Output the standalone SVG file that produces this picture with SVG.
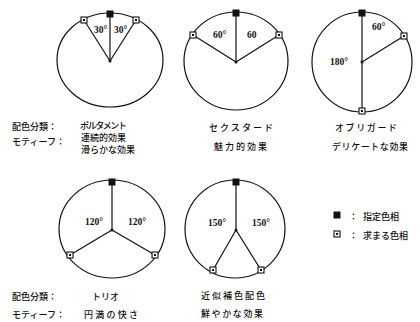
<svg xmlns="http://www.w3.org/2000/svg" xmlns:xlink="http://www.w3.org/1999/xlink" width="420" height="322" viewBox="0 0 420 322">
<style>
.ring{fill:none;stroke:#111;stroke-width:1.2}
.ray{stroke:#111;stroke-width:1.2;fill:none}
.jp{font-family:"Noto Sans CJK JP","Noto Sans",sans-serif;font-size:9px;font-weight:500;fill:#111}
.ang{font-family:"Liberation Serif",serif;font-weight:bold;font-size:9.5px;fill:#111}
.dot{fill:#111}
</style>
<defs>
<g id="given"><rect x="-3.5" y="-3.5" width="7" height="7" fill="#111"/></g>
<g id="found"><rect x="-3" y="-3" width="6" height="6" fill="#fff" stroke="#111" stroke-width="1.1"/><rect x="-1" y="-1" width="2" height="2" fill="#111"/></g>
</defs>
<rect width="420" height="322" fill="#fff"/>

<g id="connectors">
<line class="ray" x1="110" y1="61" x2="110" y2="13"/>
<line class="ray" x1="110" y1="61" x2="84" y2="20"/>
<line class="ray" x1="110" y1="61" x2="136" y2="20"/>
<line class="ray" x1="236" y1="62" x2="236" y2="12"/>
<line class="ray" x1="236" y1="62" x2="193" y2="35"/>
<line class="ray" x1="236" y1="62" x2="279" y2="35"/>
<line class="ray" x1="362" y1="12" x2="362" y2="112"/>
<line class="ray" x1="362" y1="62" x2="404" y2="36"/>
<line class="ray" x1="112" y1="230" x2="112" y2="181"/>
<line class="ray" x1="112" y1="230" x2="70" y2="255"/>
<line class="ray" x1="112" y1="230" x2="155" y2="255"/>
<line class="ray" x1="236" y1="230" x2="236" y2="181"/>
<line class="ray" x1="236" y1="230" x2="213" y2="270"/>
<line class="ray" x1="236" y1="230" x2="261" y2="270"/>
</g>

<g id="wheel-portamento">
<ellipse class="ring" cx="110" cy="60" rx="53" ry="47"/>
<circle class="dot" cx="110" cy="61" r="1.5"/>
<use href="#given" x="110" y="14"/>
<use href="#found" x="84" y="20"/>
<use href="#found" x="136" y="20"/>
<text class="ang" x="94" y="33">30°</text>
<text class="ang" x="114" y="33">30°</text>
<text class="jp" x="12" y="129.5">配色分類：</text>
<text class="jp" x="80" y="128.5" textLength="47" lengthAdjust="spacing">ポルタメント</text>
<text class="jp" x="12" y="145">モティーフ：</text>
<text class="jp" x="81" y="141" font-size="7.8">連続的効果</text>
<text class="jp" x="81" y="152.5" font-size="7.8">滑らかな効果</text>
</g>

<g id="wheel-sextad">
<ellipse class="ring" cx="236" cy="61" rx="52" ry="49"/>
<circle class="dot" cx="236" cy="62" r="1.5"/>
<use href="#given" x="236" y="13"/>
<use href="#found" x="193" y="35"/>
<use href="#found" x="279" y="35"/>
<text class="ang" x="213" y="38">60°</text>
<text class="ang" x="247" y="38">60</text>
<text class="jp" x="209" y="130.5" textLength="64" lengthAdjust="spacing">セクスタード</text>
<text class="jp" x="214" y="149.5" textLength="53" lengthAdjust="spacing">魅力的効果</text>
</g>

<g id="wheel-obbligato">
<ellipse class="ring" cx="362" cy="62" rx="50" ry="50"/>
<circle class="dot" cx="362" cy="62" r="1.5"/>
<use href="#given" x="362" y="13"/>
<use href="#found" x="362" y="111"/>
<use href="#found" x="404" y="36"/>
<text class="ang" x="372" y="30">60°</text>
<text class="ang" x="330" y="65">180°</text>
<text class="jp" x="335" y="130.5" textLength="62" lengthAdjust="spacing">オブリガード</text>
<text class="jp" x="332" y="149.5" textLength="76" lengthAdjust="spacing">デリケートな効果</text>
</g>

<g id="wheel-trio">
<ellipse class="ring" cx="112" cy="229" rx="53" ry="49"/>
<circle class="dot" cx="112" cy="230" r="1.5"/>
<use href="#given" x="112" y="182"/>
<use href="#found" x="70" y="255"/>
<use href="#found" x="155" y="255"/>
<text class="ang" x="85" y="225">120°</text>
<text class="ang" x="128" y="225">120°</text>
<text class="jp" x="12" y="300">配色分類：</text>
<text class="jp" x="92" y="300">トリオ</text>
<text class="jp" x="12" y="318">モティーフ：</text>
<text class="jp" x="84" y="318" textLength="54" lengthAdjust="spacing">円満の快さ</text>
</g>

<g id="wheel-split">
<ellipse class="ring" cx="235" cy="229" rx="50" ry="49"/>
<circle class="dot" cx="236" cy="230" r="1.5"/>
<use href="#given" x="236" y="182"/>
<use href="#found" x="213" y="270"/>
<use href="#found" x="261" y="270"/>
<text class="ang" x="208" y="226">150°</text>
<text class="ang" x="252" y="226">150°</text>
<text class="jp" x="201" y="299" textLength="64" lengthAdjust="spacing">近似補色配色</text>
<text class="jp" x="201" y="317" textLength="62" lengthAdjust="spacing">鮮やかな効果</text>
</g>

<g id="legend">
<use href="#given" x="337" y="215"/>
<text class="jp" x="349" y="219.5">：</text>
<text class="jp" x="363" y="219.5" font-size="9.5">指定色相</text>
<use href="#found" x="337" y="234"/>
<text class="jp" x="349" y="238.5">：</text>
<text class="jp" x="363" y="238.5" font-size="9.5">求まる色相</text>
</g>
</svg>
